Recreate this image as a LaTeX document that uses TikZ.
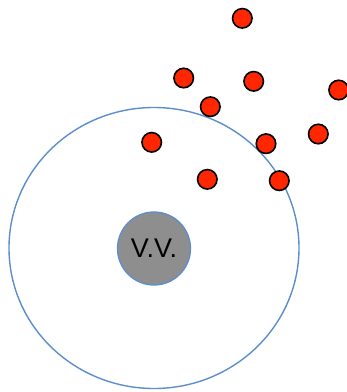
\documentclass[tikz,border=0pt]{standalone}
\usepackage{fontspec}
\setmainfont{Liberation Sans}
\definecolor{rimblue}{RGB}{92, 142, 204}
\definecolor{dotred}{RGB}{255, 38, 0}
\definecolor{coregray}{RGB}{142, 142, 142}
\usepackage{tikz}
\usetikzlibrary{shapes.geometric}

\begin{document}
\begin{tikzpicture}[
  x=1pt, y=-1pt,
  rim/.style={draw=rimblue, line width=1.4pt, ellipse, minimum width=290pt, minimum height=281pt, inner sep=0pt},
  core/.style={draw=rimblue, line width=1.3pt, fill=coregray, circle, minimum size=73pt, inner sep=0pt, font=\fontsize{27}{29}\selectfont},
  dot/.style={draw=black, line width=1.6pt, fill=dotred, circle, minimum size=19.5pt, inner sep=0pt}
]
  \useasboundingbox (0, 0) rectangle (347, 392);
  \node[rim] (zone) at (154, 248) {};
  \node[core] (vv) at (154, 248.5) {V.V.};
  % particles
  \foreach \n/\px/\py in {p1/242.3/18.3, p2/183.7/78, p3/253.7/81.3, p4/338.7/90,
      p5/210.3/106.7, p6/151.7/142.3, p7/266/143.7, p8/318.3/134,
      p9/207.3/179.3, p10/279.3/180.7}
    \node[dot] (\n) at (\px, \py) {};
\end{tikzpicture}
\end{document}
